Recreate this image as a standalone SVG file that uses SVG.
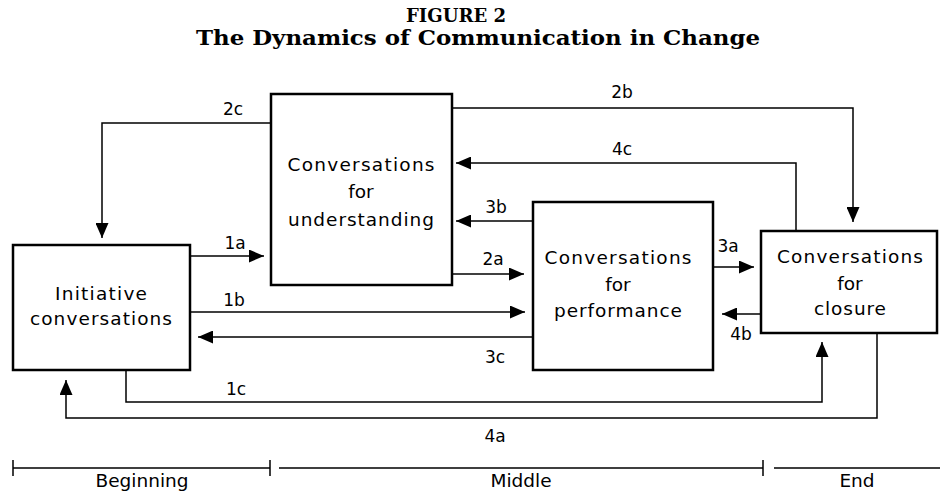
<svg xmlns="http://www.w3.org/2000/svg" width="940" height="494" viewBox="0 0 940 494">
<style>
.box{fill:#fff;stroke:#000;stroke-width:2.5}
.conn{fill:none;stroke:#000;stroke-width:1.5}
.arr{marker-end:url(#ah)}
.t{font-family:"DejaVu Sans","Liberation Sans",sans-serif;font-size:18.5px;fill:#000;text-anchor:middle}
.lbl{font-family:"DejaVu Sans","Liberation Sans",sans-serif;font-size:17px;fill:#000;text-anchor:middle}
.title{font-family:"DejaVu Serif","Liberation Serif",serif;font-weight:bold;fill:#000;text-anchor:middle}
.scale{fill:none;stroke:#000;stroke-width:1.5}
</style>
<defs>
<marker id="ah" markerUnits="userSpaceOnUse" markerWidth="15" markerHeight="13" refX="15" refY="6.5" orient="auto">
<path d="M0,0 L15,6.5 L0,13 z" fill="#000"/>
</marker>
</defs>
<rect width="940" height="494" fill="#fff"/>
<g id="title">
<text class="title" x="456" y="22" font-size="18" textLength="100" lengthAdjust="spacingAndGlyphs">FIGURE 2</text>
<text class="title" x="478" y="45" font-size="21" textLength="564" lengthAdjust="spacingAndGlyphs">The Dynamics of Communication in Change</text>
</g>
<g id="connectors">
<path class="conn arr" d="M190,256 H264"/>
<path class="conn arr" d="M190,312 H525"/>
<path class="conn arr" d="M533,337 H198"/>
<path class="conn arr" d="M452,274 H524"/>
<path class="conn arr" d="M533,221 H456"/>
<path class="conn arr" d="M796,231 V163 H456"/>
<path class="conn arr" d="M452,108 H853 V222"/>
<path class="conn arr" d="M271,123 H102 V238"/>
<path class="conn arr" d="M713,267 H754"/>
<path class="conn arr" d="M761,314 H722"/>
<path class="conn arr" d="M126,370 V402 H822 V342"/>
<path class="conn arr" d="M877,333 V418 H66 V380"/>
<text class="lbl" x="233" y="115">2c</text>
<text class="lbl" x="622" y="98">2b</text>
<text class="lbl" x="622" y="155">4c</text>
<text class="lbl" x="496" y="213">3b</text>
<text class="lbl" x="235" y="249">1a</text>
<text class="lbl" x="493" y="265">2a</text>
<text class="lbl" x="234" y="306">1b</text>
<text class="lbl" x="495" y="363">3c</text>
<text class="lbl" x="728" y="252">3a</text>
<text class="lbl" x="741" y="340">4b</text>
<text class="lbl" x="236" y="395">1c</text>
<text class="lbl" x="495" y="442">4a</text>
</g>
<g id="understanding">
<rect class="box" x="271" y="94" width="181" height="191"/>
<text class="t" x="361" y="171" textLength="147">Conversations</text>
<text class="t" x="361" y="198">for</text>
<text class="t" x="361" y="226" textLength="146">understanding</text>
</g>
<g id="initiative">
<rect class="box" x="13" y="245" width="177" height="125"/>
<text class="t" x="101" y="300" textLength="92">Initiative</text>
<text class="t" x="101" y="325" textLength="142">conversations</text>
</g>
<g id="performance">
<rect class="box" x="533" y="202" width="180" height="168"/>
<text class="t" x="618" y="264" textLength="147">Conversations</text>
<text class="t" x="618" y="291">for</text>
<text class="t" x="618" y="317" textLength="128">performance</text>
</g>
<g id="closure">
<rect class="box" x="761" y="231" width="176" height="102"/>
<text class="t" x="850" y="263" textLength="146">Conversations</text>
<text class="t" x="850" y="290">for</text>
<text class="t" x="850" y="315" textLength="72">closure</text>
</g>
<g id="phases">
<path class="scale" d="M13,468 H270 M13,460 V476 M270,460 V476 M279,468 H763 M763,460 V476 M774,468 H940"/>
<text class="t" x="142" y="487">Beginning</text>
<text class="t" x="521" y="487">Middle</text>
<text class="t" x="857" y="487">End</text>
</g>
</svg>
